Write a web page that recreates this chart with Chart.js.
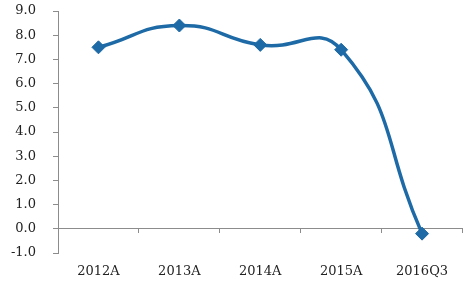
<!DOCTYPE html>
<html><head><meta charset="utf-8">
<script src="https://cdn.jsdelivr.net/npm/chart.js@4/dist/chart.umd.min.js"></script>
<style>html,body{margin:0;padding:0;background:#fff}#wrap{width:470px;height:286px}</style>
</head><body><div id="wrap"><canvas id="c"></canvas></div>
<script>
const categories = ["2012A", "2013A", "2014A", "2015A", "2016Q3"];
const values = [7.5, 8.4, 7.6, 7.4, -0.2];
const yMin = -1, yMax = 9, yStep = 1;
const lineColor = "#1d6aa6";
const axisColor = "#8c8c8c";
const fontFamily = "'DejaVu Serif', 'Liberation Serif', serif";

new Chart(document.getElementById('c'), {
  type: 'line',
  data: { labels: categories, datasets: [{
    data: values, borderColor: lineColor, backgroundColor: lineColor,
    borderWidth: 3.5, tension: 0.5, pointStyle: 'rectRot', pointRadius: 6.5,
    pointBorderWidth: 1, pointBackgroundColor: lineColor, pointBorderColor: lineColor, clip: false
  }]},
  options: {
    responsive: true, maintainAspectRatio: false, animation: false,
    layout: { padding: { left: 0, right: 3, top: 11, bottom: 0 } },
    plugins: { legend: { display: false }, tooltip: { enabled: false } },
    scales: {
      x: { type: 'category', offset: true,
        grid: { display: false, drawTicks: false }, border: { display: false },
        ticks: { color: '#222', font: { family: fontFamily, size: 13 }, padding: 11 },
        afterFit: s => { s.paddingLeft = 0; s.paddingRight = 0; s.height = 33; } },
      x2: { type: 'category', offset: true, position: { y: 0 },
        grid: { offset: true, drawOnChartArea: false, drawTicks: true, tickLength: 4, color: axisColor },
        border: { display: true, color: axisColor, width: 1 },
        ticks: { display: false },
        afterFit: s => { s.paddingLeft = 0; s.paddingRight = 0; s.height = 0; } },
      y: { min: yMin, max: yMax,
        grid: { drawOnChartArea: false, drawTicks: true, tickLength: 5, color: axisColor },
        border: { display: true, color: axisColor, width: 1 },
        ticks: { stepSize: yStep, color: '#222', padding: 17, font: { family: fontFamily, size: 13 },
          callback: v => Number(v).toFixed(1) },
        afterFit: s => { s.paddingTop = 0; s.paddingBottom = 0; s.width = 58; } }
    }
  }
});
</script></body></html>
